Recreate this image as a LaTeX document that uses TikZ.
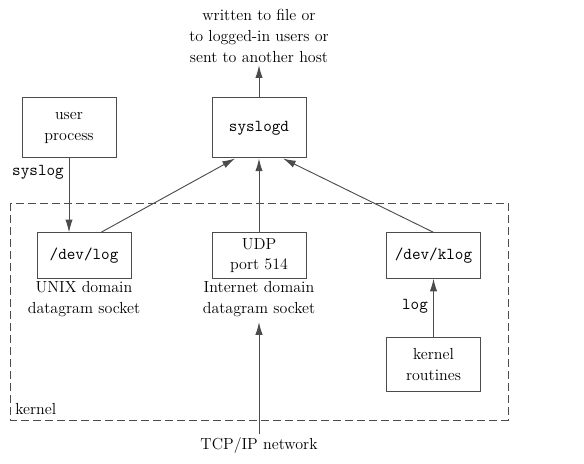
\documentclass[tikz,border=0pt]{standalone}
\usepackage{fontspec}
\usetikzlibrary{arrows.meta}
\usetikzlibrary{positioning}
\tikzset{arr/.style = {-{Latex[length=9.5pt, width=5.5pt]}, draw = black!70, line width = 0.7pt}}
\tikzset{procbox/.style = {draw = black!70, line width = 0.75pt, minimum width = 70.5pt, align = center, inner sep = 0}}
\tikzset{lbl/.style = {align = center, inner sep = 0}}
\newcommand{\txtfont}{\fontsize{12}{15.5}\selectfont}
\newcommand{\codefont}{\fontsize{12.5}{14}\ttfamily}

\begin{document}
\begin{tikzpicture}[x = 0.75pt, y = -0.75pt, font = \txtfont]
    \useasboundingbox (0, 0) rectangle (584, 463);

    % kernel area
    \draw [black!70, line width = 0.7pt, dash pattern = on 6pt off 3pt] (10, 203) rectangle (508, 420);
    \node [lbl, anchor = west] (kernel) at (15, 409) {kernel};

    % boxes
    \node [procbox, minimum height = 45pt] (user) at (69, 128) {user\\process};
    \node [procbox, minimum height = 45pt, font = \codefont] (syslogd) at (259, 128) {syslogd};
    \node [procbox, minimum height = 34pt, font = \codefont] (devlog) at (84, 255.5) {/dev/log};
    \node [procbox, minimum height = 34pt] (udp) at (259, 255.5) {UDP\\port 514};
    \node [procbox, minimum height = 34pt, font = \codefont] (klog) at (433.5, 255.5) {/dev/klog};
    \node [procbox, minimum height = 40pt] (kern) at (433.5, 364.5) {kernel\\routines};

    % labels
    \node [lbl] (dest) at (259, 36) {written to file or\\to logged-in users or\\sent to another host};
    \node [lbl, font = \codefont] (sysloglbl) at (38, 172) {syslog};
    \node [lbl] (unixlbl) at (84, 299) {UNIX domain\\datagram socket};
    \node [lbl] (inetlbl) at (259, 299) {Internet domain\\datagram socket};
    \node [lbl, font = \codefont] (loglbl) at (415, 306) {log};
    \node [lbl] (tcp) at (259, 445) {TCP/IP network};

    % connectors
    \draw [arr] (syslogd.north) -- ([yshift = -2pt] dest.south);
    \draw [arr] (user.south) -- (user.south |- devlog.north);
    \draw [arr] ([xshift = 12.75pt] devlog.north) -- ([xshift = -18pt] syslogd.south);
    \draw [arr] (udp.north) -- (syslogd.south);
    \draw [arr] (klog.north) -- ([xshift = 18pt] syslogd.south);
    \draw [arr] (kern.north) -- (klog.south);
    \draw [arr] ([yshift = 2pt] tcp.north) -- ([yshift = -4pt] inetlbl.south);
\end{tikzpicture}
\end{document}
